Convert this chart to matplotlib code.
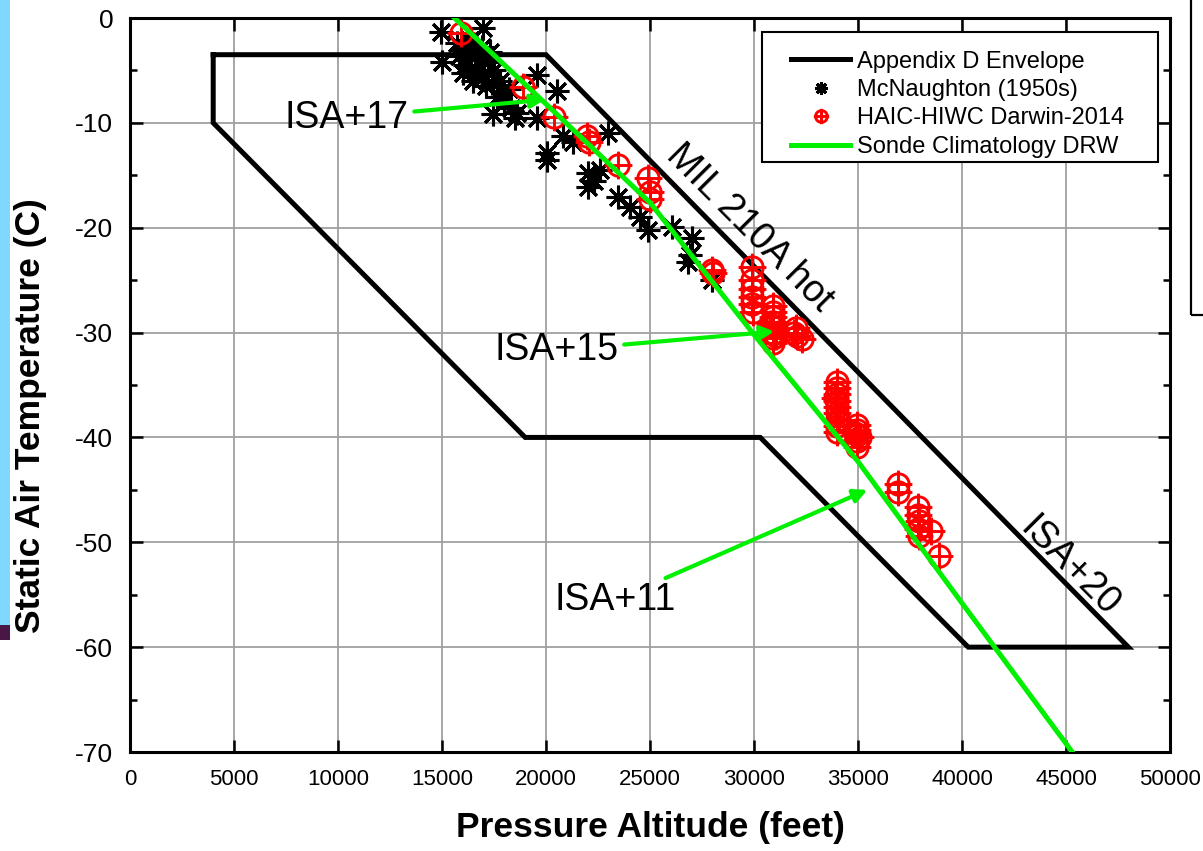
import numpy as np
import matplotlib
matplotlib.use("Agg")
from matplotlib import pyplot as plt
from matplotlib.path import Path
from matplotlib.patches import Rectangle

# Appendix D envelope (closed polygon)
env_alt = [4000, 20000, 48000, 40300, 30300, 19000, 4000, 4000]
env_temp = [-3.5, -3.5, -60, -60, -40, -40, -10, -3.5]

# McNaughton (1950s) observations
mcn_alt = [14950, 16970, 15000, 16000, 16200, 16400, 16000, 16600, 16800, 16500,
           17000, 17200, 16300, 17500, 17400, 17800, 16100, 16700, 17100, 16350,
           15800, 16900, 17300, 15700, 19570, 20530, 17650, 18000, 18300, 18600,
           17450, 18500, 19560, 20050, 20050, 20800, 22000, 22000, 22600, 23000,
           23460, 24040, 24520, 24900, 26060, 27020, 26920, 26830, 27980, 21300,
           22300, 17900, 18200]
mcn_temp = [-1.3, -1.0, -4.2, -3.0, -4.0, -5.0, -5.2, -3.5, -4.5, -6.0,
            -5.5, -4.2, -2.5, -5.0, -6.2, -6.0, -4.5, -5.2, -6.5, -2.1,
            -3.6, -2.8, -3.2, -2.4, -5.4, -7.0, -7.5, -8.0, -8.6, -9.1,
            -9.2, -9.5, -9.5, -12.9, -13.5, -11.3, -14.8, -16.1, -14.5, -11.0,
            -17.1, -18.0, -19.0, -20.2, -19.9, -21.0, -22.6, -23.3, -25.0, -11.8,
            -15.5, -7.0, -6.8]

# HAIC-HIWC Darwin-2014 observations
haic_alt = [15900, 18900, 20400, 21950, 22050, 23450, 24900, 25000, 25000,
            28000, 28050,
            29900, 29900, 29900, 29900, 29900, 29950,
            30900, 30900, 30900, 30900, 30900, 30900, 30900, 30900, 30750, 31050,
            31900, 32000, 32050, 32300,
            34000, 34000, 34000, 34000, 34000, 34000, 34000, 34000, 34000, 33900, 34100,
            34950, 34950, 34950, 34950, 34950, 34850, 35100,
            36900, 36900, 37900, 37900, 37950, 37900, 37950, 38500, 38900]
haic_temp = [-1.4, -6.6, -9.4, -11.3, -11.8, -14.0, -15.3, -16.6, -17.3,
             -24.0, -24.3,
             -23.7, -25.0, -25.8, -26.6, -27.3, -28.0,
             -27.5, -28.0, -28.5, -29.0, -29.5, -30.0, -30.5, -31.0, -29.2, -30.3,
             -30.0, -29.6, -30.3, -30.6,
             -34.7, -35.3, -35.9, -36.5, -37.1, -37.7, -38.3, -38.9, -39.5, -36.2, -38.3,
             -38.8, -39.3, -39.8, -40.3, -40.9, -39.6, -40.0,
             -44.4, -45.2, -46.6, -47.4, -48.0, -48.7, -49.4, -48.9, -51.3]

# Sonde climatology DRW
sonde_alt = [15600, 20000, 25000, 30000, 35000, 40000, 45300]
sonde_temp = [0, -8.2, -17.6, -30.2, -42.3, -55.8, -70.0]

plt.rcParams['font.family'] = ['Liberation Sans', 'DejaVu Sans']
plt.rcParams['axes.unicode_minus'] = False

W, H = 1203, 851
fig = plt.figure(figsize=(W / 100, H / 100), dpi=100)
ax = fig.add_axes([130 / W, 1 - 752 / H, 1040 / W, 734 / H])

# circle with crosshair marker
circ = Path.circle((0, 0), 1.0)
cross = Path([(-1.3, 0), (1.3, 0), (0, -1.3), (0, 1.3)],
             [Path.MOVETO, Path.LINETO, Path.MOVETO, Path.LINETO])
circ_plus = Path.make_compound_path(circ, cross)

green = '#00F000'

ax.plot(env_alt, env_temp, color='black', lw=3.6, label='Appendix D Envelope',
        solid_joinstyle='miter', zorder=3)
ax.plot(mcn_alt, mcn_temp, linestyle='none', marker=(8, 2, 0), ms=17, mew=2.2,
        color='black', label='McNaughton (1950s)', zorder=4)
ax.plot(haic_alt, haic_temp, linestyle='none', marker=circ_plus, ms=20, mew=2.1,
        mfc='none', mec='red', color='red', label='HAIC-HIWC Darwin-2014', zorder=5)
ax.plot(sonde_alt, sonde_temp, color=green, lw=3.6, label='Sonde Climatology DRW',
        zorder=6)

ax.set_xlim(0, 50000)
ax.set_ylim(-70, 0)
ax.set_xticks(np.arange(0, 50001, 5000))
ax.set_yticks(np.arange(-70, 1, 10))
ax.set_yticks(np.arange(-65, 0, 10), minor=True)
ax.grid(True, color='#A0A0A0', lw=1.3, zorder=0)
ax.tick_params(which='both', direction='in', top=True, right=True, width=1.8)
ax.tick_params(which='major', length=9)
ax.tick_params(which='minor', length=5)
ax.tick_params(axis='x', labelsize=16, pad=12)
ax.tick_params(axis='y', labelsize=19, pad=12)
for s in ax.spines.values():
    s.set_linewidth(2.2)

ax.set_xlabel('Pressure Altitude (feet)', fontsize=25.5, fontweight='bold')
ax.set_ylabel('Static Air Temperature (C)', fontsize=25.5, fontweight='bold')
ax.xaxis.set_label_coords(0.5, -0.08)
ax.yaxis.set_label_coords(-0.08, 0.458)

leg = ax.legend(loc='upper left', bbox_to_anchor=(0.6197, 0.978), borderaxespad=0,
                fontsize=17, frameon=False, labelspacing=0.27, handlelength=2.5,
                handletextpad=0.3, borderpad=0.7, markerscale=0.55)
ax.add_patch(Rectangle((762 / W, 1 - 162 / H), 396 / W, 130 / H, transform=fig.transFigure,
                       facecolor='white', edgecolor='black', lw=1.5, zorder=8))
leg.set_zorder(9)

arrow = dict(arrowstyle='-|>', color=green, lw=3, mutation_scale=20, shrinkB=0)
ax.annotate('ISA+17', xy=(19930, -7.8), xytext=(10420, -9.5), fontsize=27,
            ha='center', va='center', arrowprops=arrow, zorder=7)
ax.annotate('ISA+15', xy=(30980, -29.9), xytext=(20510, -31.7), fontsize=27,
            ha='center', va='center', arrowprops=arrow, zorder=7)
ax.annotate('ISA+11', xy=(35450, -45.0), xytext=(23340, -55.5), fontsize=27,
            ha='center', va='center', arrowprops=arrow, zorder=7)

ax.text(29780, -20.0, 'MIL 210A hot', fontsize=27, rotation=-45.2,
        rotation_mode='anchor', ha='center', va='center', zorder=7)
ax.text(45150, -52.4, 'ISA+20', fontsize=27, rotation=-45.2,
        rotation_mode='anchor', ha='center', va='center', zorder=7)

# slide decorations around the chart
fig.add_artist(Rectangle((0, 1 - 625 / H), 10 / W, 625 / H, transform=fig.transFigure,
                         facecolor='#80D8FF', edgecolor='none'))
fig.add_artist(Rectangle((0, 1 - 640 / H), 10 / W, 15 / H, transform=fig.transFigure,
                         facecolor='#4A1646', edgecolor='none'))
fig.add_artist(Rectangle((1191 / W, 1 - 315 / H), 0.05, 330 / H, transform=fig.transFigure,
                         facecolor='none', edgecolor='black', lw=1.6))

fig.savefig('out.png', dpi=100)
